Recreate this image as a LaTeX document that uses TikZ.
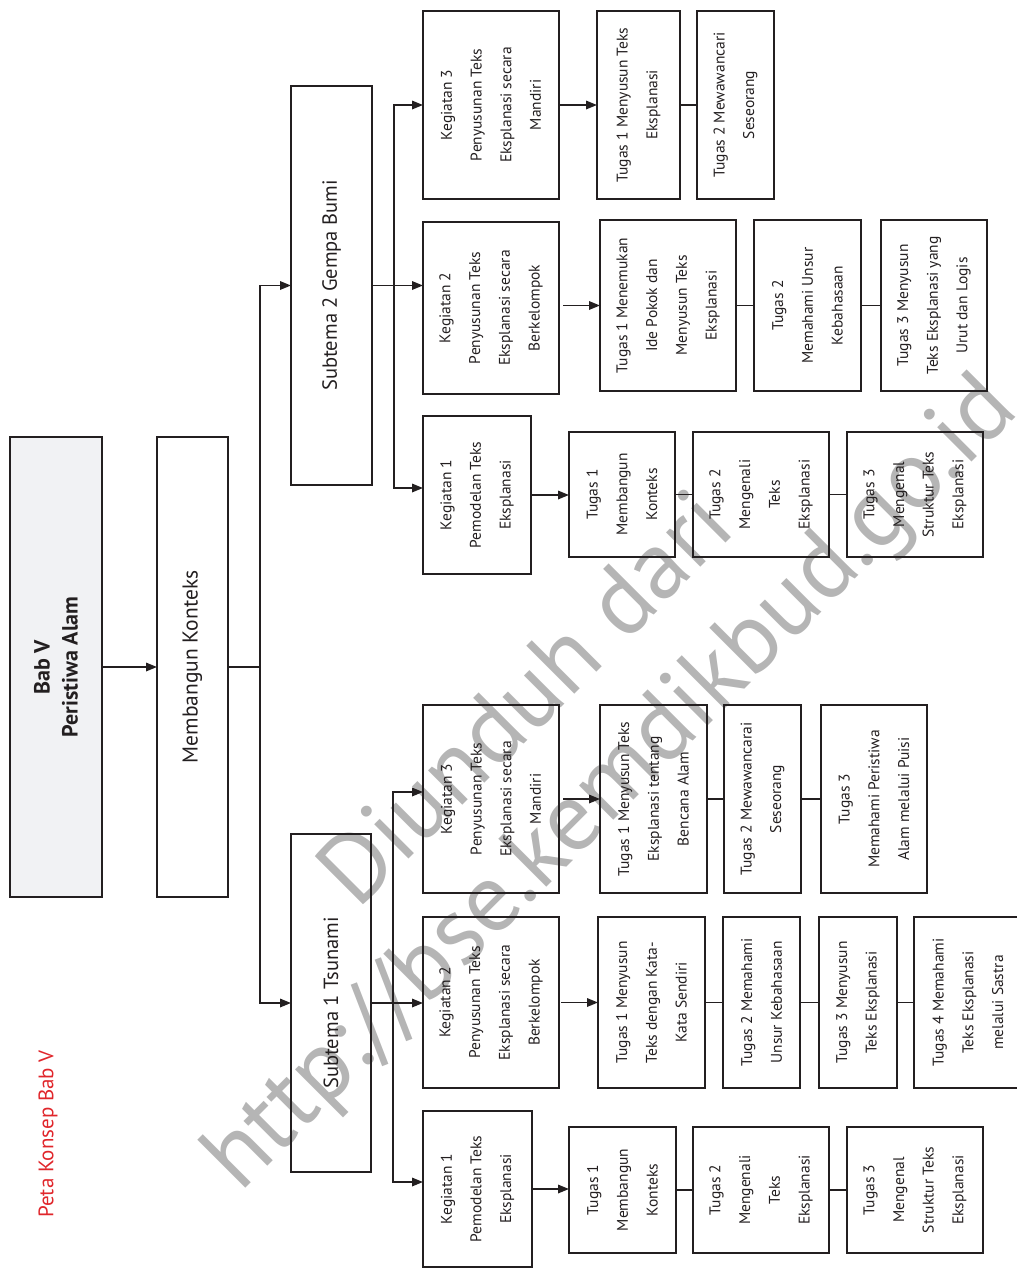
\documentclass[tikz,border=0pt]{standalone}
\usepackage{fontspec}
\setmainfont{PT Sans}
\usetikzlibrary{arrows.meta,calc}
\definecolor{ink}{HTML}{231F20}
\definecolor{wmgray}{HTML}{B5B5B5}
\definecolor{redlabel}{HTML}{E0262B}
\definecolor{babfill}{HTML}{F1F2F4}
\tikzset{
  box/.style={draw=ink, line width=1.8pt, inner sep=0pt, outer sep=0pt, rectangle},
  lbl/.style={rotate=90, align=center, text=ink, inner sep=0pt, font=\fontsize{15.5}{29.7}\selectfont},
  biglbl/.style={rotate=90, align=center, text=ink, inner sep=0pt, font=\fontsize{20.5}{28}\selectfont},
  arr/.style={draw=ink, line width=1.7pt, -{Triangle[length=11pt,width=8.5pt]}},
  conn/.style={draw=ink, line width=1.7pt},
  wmk/.style={rotate=45, align=center, text=wmgray, inner sep=0pt, font=\fontsize{97}{117}\selectfont},
}
\newcommand\bx[6]{%
  \node[box, minimum width={(#4-#2)*1pt}, minimum height={(#5-#3)*1pt}] (#1) at ({(#2+#4)/2},{-(#3+#5)/2}) {};
  \node[lbl] (#1t) at (#1.center) {#6};}
\begin{document}
\begin{tikzpicture}[x=1pt,y=1pt]
\useasboundingbox (0,0) rectangle (1017,-1269);
% watermark
\node[wmk] (wm) at (572,-745) {Diunduh dari\\http://bse.kemdikbud.go.id};
% title label
\node[rotate=90, text=redlabel, inner sep=0pt, font=\fontsize{21}{24}\selectfont] (peta) at (48,-1134) {Peta Konsep Bab V};
% main boxes
\node[box, fill=babfill, minimum width=92pt, minimum height=460pt] (bab) at (56,-667) {};
\node[biglbl, font=\bfseries\fontsize{22}{28}\selectfont] (babt) at (bab.center) {Bab V\\Peristiwa Alam};
\node[box, minimum width=71pt, minimum height=460pt] (mk) at (192.5,-667) {};
\node[biglbl, font=\fontsize{21.5}{28}\selectfont] (mkt) at (mk.center) {Membangun Konteks};
\node[box, minimum width=81pt, minimum height=399pt] (s2) at (331.5,-285.5) {};
\node[biglbl] (s2t) at (s2.center) {Subtema 2 Gempa Bumi};
\node[box, minimum width=80pt, minimum height=338pt] (s1) at (331,-1003) {};
\node[biglbl] (s1t) at (s1.center) {Subtema 1 Tsunami};
% Subtema 2 kegiatan
\bx{a3}{423}{11}{559}{199}{Kegiatan 3\\Penyusunan Teks\\Eksplanasi secara\\Mandiri}
\bx{a2}{423}{222}{559}{394}{Kegiatan 2\\Penyusunan Teks\\Eksplanasi secara\\Berkelompok}
\bx{a1}{423}{416}{531}{574}{Kegiatan 1\\Pemodelan Teks\\Eksplanasi}
% Subtema 2 tugas
\bx{a3t1}{597}{11}{680}{199}{Tugas 1 Menyusun Teks\\Eksplanasi}
\bx{a3t2}{697}{11}{774}{199}{Tugas 2 Mewawancari\\Seseorang}
\bx{a2t1}{600}{220}{736}{391}{Tugas 1 Menemukan\\Ide Pokok dan\\Menyusun Teks\\Eksplanasi}
\bx{a2t2}{754}{220}{861}{391}{Tugas 2\\Memahami Unsur\\Kebahasaan}
\bx{a2t3}{881}{220}{987}{391}{Tugas 3 Menyusun\\Teks Eksplanasi yang\\Urut dan Logis}
\bx{a1t1}{569}{432}{675}{557}{Tugas 1\\Membangun\\Konteks}
\bx{a1t2}{693}{432}{829}{557}{Tugas 2\\Mengenali\\Teks\\Eksplanasi}
\bx{a1t3}{847}{432}{983}{557}{Tugas 3\\Mengenal\\Struktur Teks\\Eksplanasi}
% Subtema 1 kegiatan
\bx{b3}{423}{705}{559}{893}{Kegiatan 3\\Penyusunan Teks\\Eksplanasi secara\\Mandiri}
\bx{b2}{423}{917}{559}{1088}{Kegiatan 2\\Penyusunan Teks\\Eksplanasi secara\\Berkelompok}
\bx{b1}{423}{1111}{532}{1267}{Kegiatan 1\\Pemodelan Teks\\Eksplanasi}
% Subtema 1 tugas
\bx{b3t1}{600}{705}{707}{893}{Tugas 1 Menyusun Teks\\Eksplanasi tentang\\Bencana Alam}
\bx{b3t2}{724}{705}{801}{893}{Tugas 2 Mewawancarai\\Seseorang}
\bx{b3t3}{821}{705}{927}{893}{Tugas 3\\Memahami Peristiwa\\Alam melalui Puisi}
\bx{b2t1}{598}{917}{705}{1088}{Tugas 1 Menyusun\\Teks dengan Kata-\\Kata Sendiri}
\bx{b2t2}{723}{917}{800}{1088}{Tugas 2 Memahami\\Unsur Kebahasaan}
\bx{b2t3}{819}{917}{897}{1088}{Tugas 3 Menyusun\\Teks Eksplanasi}
\bx{b2t4}{914}{917}{1022}{1088}{Tugas 4 Memahami\\Teks Eksplanasi\\melalui Sastra}
\bx{b1t1}{569}{1127}{676}{1253}{Tugas 1\\Membangun\\Konteks}
\bx{b1t2}{693}{1127}{829}{1253}{Tugas 2\\Mengenali\\Teks\\Eksplanasi}
\bx{b1t3}{847}{1127}{983}{1253}{Tugas 3\\Mengenal\\Struktur Teks\\Eksplanasi}
% connectors: main
\draw[arr] (bab.east) -- (mk.west);
\coordinate (t0) at (260,-667);
\draw[conn] (mk.east) -- (t0);
\draw[arr] (t0) |- (s2.west);
\draw[arr] (t0) |- (s1.west);
% Subtema 2 branch
\coordinate (t2) at (394,-285.5);
\draw[arr] (s2.east) -- (s2.east -| a2.west);
\draw[arr] (t2) |- (a3.west);
\draw[arr] (t2) |- ([yshift=7pt]a1.west);
% Subtema 1 branch
\coordinate (t1) at (393,-1003);
\draw[arr] (s1.east) -- (s1.east -| b2.west);
\draw[arr] (t1) |- ([yshift=7pt]b3.west);
\draw[arr] (t1) |- ([yshift=7pt]b1.west);
% kegiatan to tugas
\draw[arr] (a3.east) -- (a3.east -| a3t1.west);
\draw[arr, shorten <=4pt] ([yshift=2.5pt]a2.east) -- ([yshift=2.5pt]a2.east -| a2t1.west);
\draw[arr] (a1.east) -- (a1.east -| a1t1.west);
\draw[arr, shorten <=4pt] (b3.east) -- (b3.east -| b3t1.west);
\draw[arr, shorten <=2pt] (b2.east) -- (b2.east -| b2t1.west);
\draw[arr] (b1.east) -- (b1.east -| b1t1.west);
% tugas chains
\draw[conn] (a3t1.east) -- (a3t1.east -| a3t2.west);
\draw[conn] (a2t1.east) -- (a2t1.east -| a2t2.west);
\draw[conn] (a2t2.east) -- (a2t2.east -| a2t3.west);
\draw[conn] (a1t1.east) -- (a1t1.east -| a1t2.west);
\draw[conn] (a1t2.east) -- (a1t2.east -| a1t3.west);
\draw[conn] (b3t1.east) -- (b3t1.east -| b3t2.west);
\draw[conn] (b3t2.east) -- (b3t2.east -| b3t3.west);
\draw[conn] (b2t1.east) -- (b2t1.east -| b2t2.west);
\draw[conn] (b2t2.east) -- (b2t2.east -| b2t3.west);
\draw[conn] (b2t3.east) -- (b2t3.east -| b2t4.west);
\draw[conn] (b1t1.east) -- (b1t1.east -| b1t2.west);
\draw[conn] (b1t2.east) -- (b1t2.east -| b1t3.west);
\end{tikzpicture}
\end{document}
